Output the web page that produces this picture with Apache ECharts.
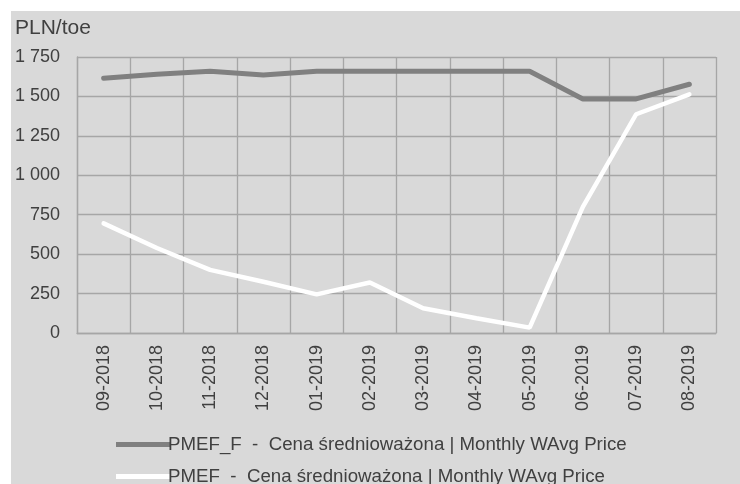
<!DOCTYPE html>
<html>
<head>
<meta charset="utf-8">
<script src="https://cdn.jsdelivr.net/npm/echarts@6/dist/echarts.min.js"></script>
<style>
  html, body { margin: 0; padding: 0; background: #ffffff; }
  #chart { width: 740px; height: 484px; }
</style>
</head>
<body>
<div id="chart"></div>
<script>
// miesiace
const months = ['09-2018', '10-2018', '11-2018', '12-2018', '01-2019', '02-2019',
  '03-2019', '04-2019', '05-2019', '06-2019', '07-2019', '08-2019'];
// PMEF_F
const pmefF = [1615, 1640, 1660, 1636, 1660, 1660, 1660, 1660, 1660, 1484, 1484, 1577];
// PMEF
const pmef = [695, 539, 400, 325, 245, 320, 157, 93, 34, 800, 1387, 1513];
const nameF = 'PMEF_F  -  Cena średnioważona | Monthly WAvg Price';
const nameP = 'PMEF  -  Cena średnioważona | Monthly WAvg Price';

const chart = echarts.init(document.getElementById('chart'), null, { renderer: 'canvas' });

const fontFam = '"Liberation Sans", Arial, sans-serif';

function legendAt(name, top) {
  return {
    orient: 'horizontal',
    left: 111,
    top: top,
    itemWidth: 54,
    itemHeight: 5,
    icon: 'rect',
    data: [name],
    textStyle: { color: '#404040', fontSize: 18.7, fontFamily: fontFam, padding: [0, 0, 0, -7] }
  };
}

var option = {
  animation: false,
  textStyle: { fontFamily: fontFam },
  graphic: [{
    type: 'rect',
    left: 11, top: 11,
    shape: { width: 729, height: 473 },
    style: { fill: '#d9d9d9' },
    z: -10
  }, {
    type: 'text',
    left: 15, top: 18,
    style: { text: 'PLN/toe', fill: '#404040', font: '21px ' + fontFam }
  }],
  grid: {
    left: 77,
    right: 24,
    top: 57,
    bottom: 151
  },
  legend: [legendAt(nameF, 430), legendAt(nameP, 462)],
  xAxis: {
    type: 'category',
    data: months,
    boundaryGap: true,
    axisLine: { lineStyle: { color: '#a6a6a6', width: 1.3 } },
    axisTick: { show: false },
    splitLine: { show: true, interval: 0, lineStyle: { color: '#a6a6a6', width: 1.3 } },
    axisLabel: {
      rotate: 90,
      interval: 0,
      margin: 12,
      color: '#404040',
      fontSize: 18,
      fontFamily: fontFam
    }
  },
  yAxis: {
    type: 'value',
    min: 0,
    max: 1750,
    interval: 250,
    axisLine: { show: true, lineStyle: { color: '#a6a6a6', width: 1.3 } },
    axisTick: { show: false },
    splitLine: { lineStyle: { color: '#a6a6a6', width: 1.3 } },
    axisLabel: {
      margin: 17,
      color: '#404040',
      fontSize: 18,
      fontFamily: fontFam,
      formatter: function (v) {
        return String(v).replace(/\B(?=(\d{3})+(?!\d))/g, ' ');
      }
    }
  },
  series: [{
    name: nameF,
    type: 'line',
    data: pmefF,
    symbol: 'none',
    color: '#808080',
    lineStyle: { color: '#808080', width: 5, cap: 'round' }
  }, {
    name: nameP,
    type: 'line',
    data: pmef,
    symbol: 'none',
    color: '#ffffff',
    lineStyle: { color: '#ffffff', width: 4.5, cap: 'round' }
  }]
};

chart.setOption(option);
</script>
</body>
</html>
